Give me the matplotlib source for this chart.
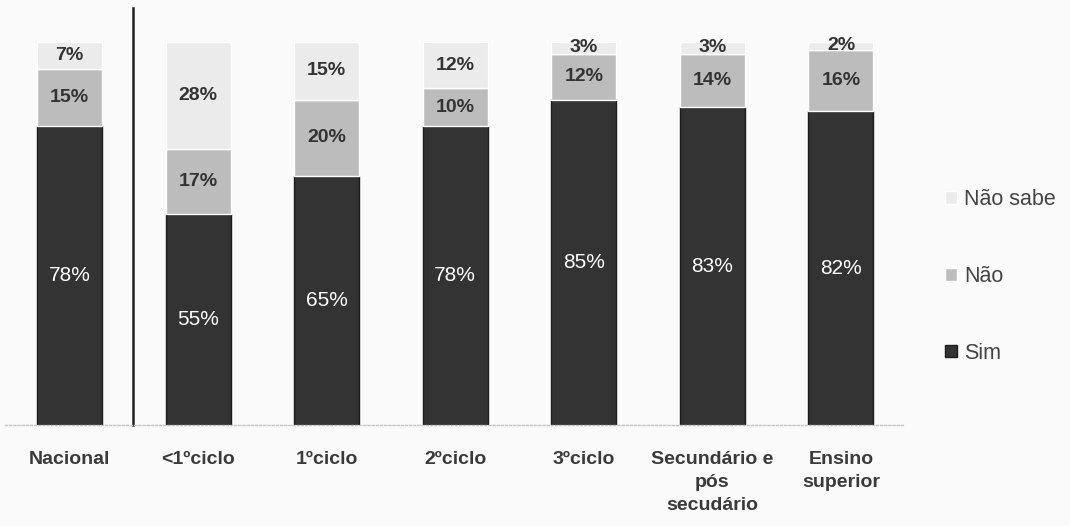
import matplotlib.pyplot as plt

plt.rcParams['font.family'] = ['Liberation Sans Narrow', 'Liberation Sans', 'DejaVu Sans']

categorias = ['Nacional', '<1ºciclo', '1ºciclo', '2ºciclo', '3ºciclo',
              'Secundário e\npós\nsecudário', 'Ensino\nsuperior']
sim = [78, 55, 65, 78, 85, 83, 82]
nao = [15, 17, 20, 10, 12, 14, 16]
nao_sabe = [7, 28, 15, 12, 3, 3, 2]

c_sim = '#333333'
c_nao = '#bcbcbc'
c_ns = '#ebebeb'

fig = plt.figure(figsize=(10.7, 5.26), dpi=100, facecolor='#fafafa')
ax = fig.add_axes([0.005, 0.192, 0.841, 0.728])
ax.set_facecolor('#fafafa')

x = list(range(len(categorias)))
w = 0.505
base_nao = sim
base_ns = [s + n for s, n in zip(sim, nao)]

b1 = ax.bar(x, sim, w, color=c_sim, edgecolor='#1c1c1c', linewidth=1, label='Sim')
b2 = ax.bar(x, nao, w, bottom=base_nao, color=c_nao, edgecolor='white', linewidth=1, label='Não')
b3 = ax.bar(x, nao_sabe, w, bottom=base_ns, color=c_ns, edgecolor='white', linewidth=1, label='Não sabe')

for i in x:
    ax.text(i, sim[i] / 2, f'{sim[i]}%', ha='center', va='center',
            color='white', fontsize=15)
    ax.text(i, base_nao[i] + nao[i] / 2, f'{nao[i]}%', ha='center', va='center',
            color='#333333', fontsize=14, fontweight='bold')
    ax.text(i, base_ns[i] + nao_sabe[i] / 2, f'{nao_sabe[i]}%', ha='center', va='center',
            color='#333333', fontsize=14, fontweight='bold')

ax.set_xlim(-0.5, 6.5)
ax.set_ylim(0, 100)
ax.set_xticks(x)
ax.set_xticklabels(categorias, fontsize=14, fontweight='bold', color='#3a3a3a',
                   linespacing=1.45)
ax.tick_params(axis='x', length=0, pad=19)
ax.set_yticks([])
for s in ['top', 'right', 'left']:
    ax.spines[s].set_visible(False)
ax.spines['bottom'].set_color('#c4c4c4')
ax.spines['bottom'].set_linestyle((0, (1.5, 1.5)))
ax.spines['bottom'].set_linewidth(1)

# separador entre o total nacional e os níveis de escolaridade
ax.axvline(0.49, ymin=0, ymax=1.089, color='#222222', linewidth=1.8, clip_on=False)

leg = fig.legend(handles=[b3, b2, b1], loc='center left', bbox_to_anchor=(0.865, 0.475),
                 frameon=False, fontsize=15.5, labelspacing=2.6, handlelength=0.55,
                 handleheight=0.55, handletextpad=0.35, labelcolor='#444444')

fig.savefig('out.png', dpi=100, facecolor=fig.get_facecolor())
